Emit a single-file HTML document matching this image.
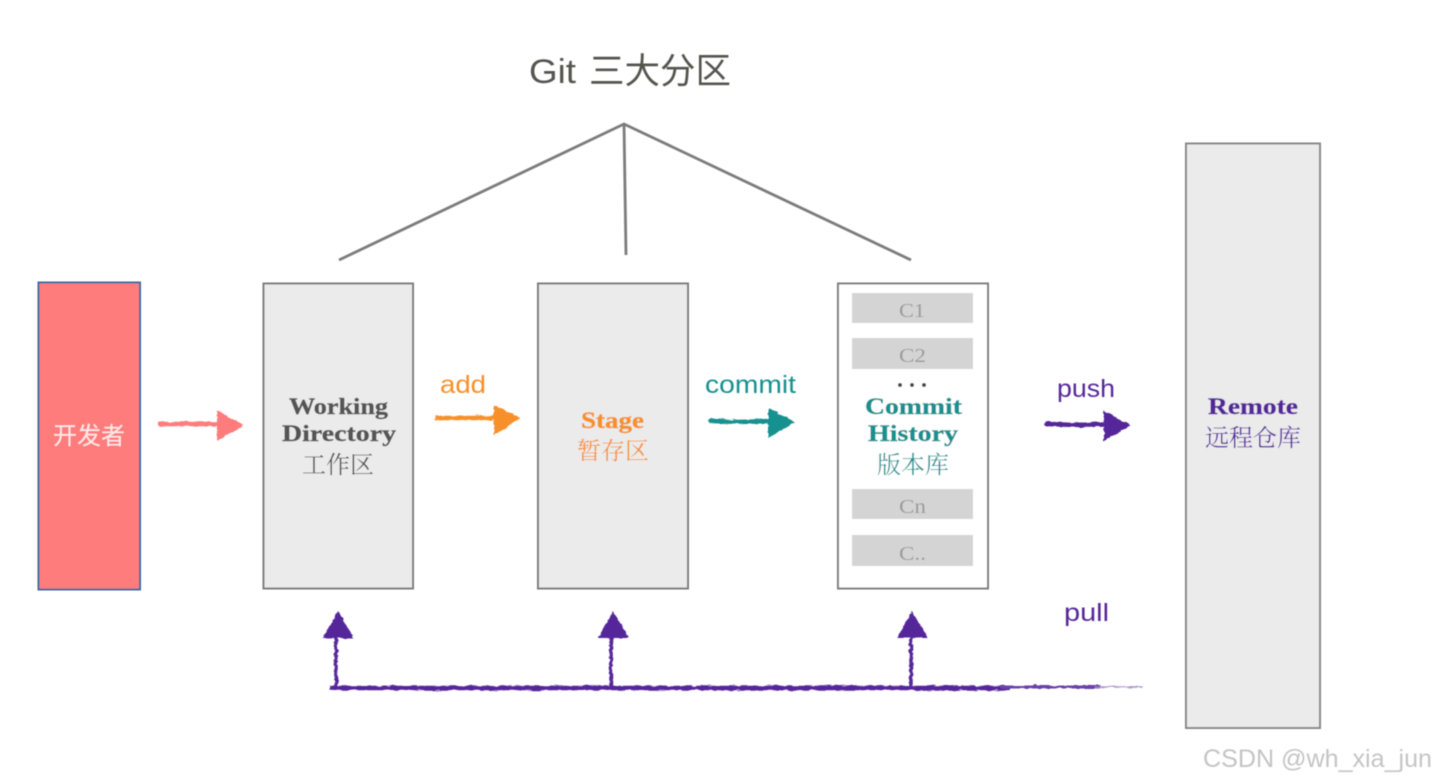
<!DOCTYPE html>
<html>
<head>
<meta charset="utf-8">
<style>
html,body{margin:0;padding:0;background:#fff;width:1436px;height:783px;overflow:hidden}
svg{display:block}
.sans{font-family:"Liberation Sans","Noto Sans CJK SC",sans-serif}
.serif{font-family:"Liberation Serif","Noto Serif CJK SC",serif}
.b{font-weight:bold}
</style>
</head>
<body>
<svg width="1436" height="783" viewBox="0 0 1436 783" xmlns="http://www.w3.org/2000/svg">
<defs>
<filter id="s" x="-5%" y="-5%" width="110%" height="110%"><feGaussianBlur stdDeviation="0.6"/></filter>
<filter id="r" filterUnits="userSpaceOnUse" x="0" y="0" width="1436" height="783">
<feTurbulence type="fractalNoise" baseFrequency="0.12 0.3" numOctaves="2" seed="4" result="n"/>
<feDisplacementMap in="SourceGraphic" in2="n" scale="3.500" xChannelSelector="R" yChannelSelector="G"/>
</filter>
</defs>
<g filter="url(#s)">
<!-- title -->
<text x="529" y="83" class="sans" font-size="34" fill="#555550" textLength="47" lengthAdjust="spacingAndGlyphs">Git</text>
<text x="589" y="83" class="sans" font-size="35.500" fill="#555550" textLength="142" lengthAdjust="spacingAndGlyphs">三大分区</text>
<!-- tree lines -->
<g stroke="#7c7c7c" stroke-width="2.800" fill="none">
<path d="M339 260L624 124L911 260"/>
<path d="M624 124L626 255"/>
</g>
<!-- boxes -->
<rect x="38.500" y="282.500" width="101.500" height="307" fill="#fe7c7c" stroke="#3d6ba0" stroke-width="2"/>
<rect x="263.500" y="283.500" width="149.500" height="305" fill="#ebebeb" stroke="#7c7c7c" stroke-width="2"/>
<rect x="538" y="283.500" width="150" height="305" fill="#ebebeb" stroke="#7c7c7c" stroke-width="2"/>
<rect x="838" y="283.500" width="150" height="305" fill="#ffffff" stroke="#7c7c7c" stroke-width="2"/>
<rect x="1186" y="143.500" width="134" height="584.500" fill="#ebebeb" stroke="#868686" stroke-width="2"/>
<!-- commit bars -->
<g fill="#d4d4d4">
<rect x="852" y="293" width="121" height="30"/>
<rect x="852" y="338" width="121" height="31"/>
<rect x="852" y="489" width="121" height="30"/>
<rect x="852" y="535" width="121" height="31"/>
</g>
<g class="serif" font-size="20" fill="#9a9a9a">
<text x="899" y="317" textLength="26" lengthAdjust="spacingAndGlyphs">C1</text>
<text x="899" y="362" textLength="27" lengthAdjust="spacingAndGlyphs">C2</text>
<text x="899" y="513" textLength="27" lengthAdjust="spacingAndGlyphs">Cn</text>
<text x="899" y="560" textLength="27" lengthAdjust="spacingAndGlyphs">C..</text>
</g>
<g fill="#444"><circle cx="900" cy="385" r="2"/><circle cx="912" cy="385" r="2"/><circle cx="924" cy="385" r="2"/></g>
<!-- box labels -->
<text x="89" y="444" class="sans" font-size="24" fill="#ffe9e9" text-anchor="middle">开发者</text>
<g fill="#555555">
<text x="289" y="414" class="serif b" font-size="23" textLength="99" lengthAdjust="spacingAndGlyphs" stroke="#555555" stroke-width=".4">Working</text>
<text x="282" y="441" class="serif b" font-size="23" textLength="114" lengthAdjust="spacingAndGlyphs" stroke="#555555" stroke-width=".4">Directory</text>
<text x="338" y="473" class="serif" font-size="24" text-anchor="middle">工作区</text>
</g>
<g fill="#f7902b">
<text x="581" y="428" class="serif b" font-size="23" textLength="63" lengthAdjust="spacingAndGlyphs" stroke="#f7902b" stroke-width=".4">Stage</text>
<text x="613" y="459" class="serif" font-size="24" text-anchor="middle">暂存区</text>
</g>
<g fill="#17918f">
<text x="865" y="414" class="serif b" font-size="23" textLength="97" lengthAdjust="spacingAndGlyphs" stroke="#17918f" stroke-width=".4">Commit</text>
<text x="868" y="441" class="serif b" font-size="23" textLength="90" lengthAdjust="spacingAndGlyphs" stroke="#17918f" stroke-width=".4">History</text>
<text x="913" y="473" class="serif" font-size="24" text-anchor="middle">版本库</text>
</g>
<g fill="#55279a">
<text x="1208" y="414" class="serif b" font-size="23" textLength="90" lengthAdjust="spacingAndGlyphs" stroke="#55279a" stroke-width=".4">Remote</text>
<text x="1253" y="446" class="serif" font-size="24" text-anchor="middle">远程仓库</text>
</g>
<!-- arrow labels -->
<text x="440" y="393" class="sans" font-size="25" fill="#f7902b" textLength="46" lengthAdjust="spacingAndGlyphs">add</text>
<text x="705" y="393" class="sans" font-size="25" fill="#17918f" textLength="91" lengthAdjust="spacingAndGlyphs">commit</text>
<text x="1057" y="397" class="sans" font-size="25" fill="#55279a" textLength="58" lengthAdjust="spacingAndGlyphs">push</text>
<text x="1064" y="621" class="sans" font-size="25" fill="#55279a" textLength="45" lengthAdjust="spacingAndGlyphs">pull</text>
<!-- hand-drawn arrows -->
<g filter="url(#r)">
<g stroke-width="4.500" fill="none" stroke-linecap="round">
<path d="M160 424L190 424L220 424" stroke="#fe7c7c"/>
<path d="M437 418L465 418L496 418" stroke="#f7902b"/>
<path d="M711 421L740 422L770 421" stroke="#17918f"/>
<path d="M1047 424L1075 425L1106 424" stroke="#55279a"/>
</g>
<path d="M217 411L244 425L217 441Z" fill="#fe7c7c"/>
<path d="M494 405L521 418L494 435Z" fill="#f7902b"/>
<path d="M768 408L795 422L768 438Z" fill="#17918f"/>
<path d="M1104 411L1131 425L1104 441Z" fill="#55279a"/>
<g fill="#55279a">
<path d="M338 611L354 638L323 638Z"/>
<path d="M613 611L629 638L598 638Z"/>
<path d="M912 611L928 638L897 638Z"/>
</g>
<g stroke="#55279a" stroke-width="3.500" fill="none">
<path d="M336 636V686"/>
<path d="M611 636V686"/>
<path d="M911 636V686"/>
</g>
<path d="M330 688L1010 688" stroke="#55279a" stroke-width="4.500" fill="none"/>
<path d="M1000 687L1100 687" stroke="#6a42a8" stroke-width="3" fill="none"/>
<path d="M1095 687L1143 687" stroke="#a893cc" stroke-width="1.500" fill="none"/>
</g>
<!-- watermark -->
<text x="1203" y="767" class="sans" font-size="25" fill="#c4c4c4" textLength="229" lengthAdjust="spacingAndGlyphs">CSDN @wh_xia_jun</text>
</g>
</svg>
</body>
</html>
